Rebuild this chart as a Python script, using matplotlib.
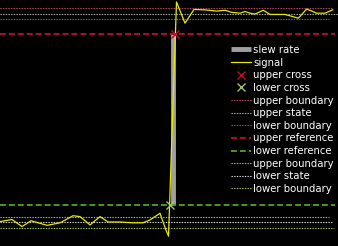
import matplotlib
matplotlib.use("Agg")
import matplotlib.pyplot as plt

# signal samples (time, volts)
t_sig = [0, 12, 22, 31, 47, 60, 73, 80, 90, 100, 108, 120, 133, 143, 150, 160, 165.7, 168.5,
         176.5, 185, 194, 205, 216.7, 225, 231.7, 240, 245, 250, 255, 263.3, 270, 285,
         298.3, 306.7, 316.7, 325, 332.7]
v_sig = [0.01, 0.06, -0.11, 0.03, -0.08, -0.02, 0.15, 0.13, -0.07, 0.13, 0.0, 0.0, -0.02, -0.02,
         0.05, 0.21, -0.18, -0.34,
         5.29, 4.78, 5.11, 5.10, 5.07, 5.09, 5.04, 5.02, 5.06, 5.02, 5.00, 5.09, 4.99, 4.99,
         4.90, 5.12, 5.02, 5.02, 5.10]

t_start, t_end = 0, 332
upper_state = 5.01
upper_bounds = [5.14, 4.88]
lower_state = 0.0
lower_bounds = [0.13, -0.14]
upper_ref = 4.51
lower_ref = 0.42
upper_cross = (175, 4.51)
lower_cross = (170, 0.42)

labels = ["slew rate", "signal", "upper cross", "lower cross", "upper boundary",
          "upper state", "lower boundary", "upper reference", "lower reference",
          "upper boundary", "lower state", "lower boundary"]

fig = plt.figure(figsize=(3.38, 2.46), dpi=100, facecolor="black")
ax = fig.add_axes([0, 0, 1, 1])
ax.set_facecolor("black")
ax.set_axis_off()
ax.set_xlim(0, 338)
ax.set_ylim(-0.577, 5.337)

dot = (0, (1.2, 1.2))
pink = "#c8506a"
grey = "#b8b8b8"
lgreen = "#a8d060"

mid_t = (upper_cross[0] + lower_cross[0]) / 2
h_slew, = ax.plot([mid_t, mid_t], [lower_cross[1], upper_cross[1]], color="#a0a0a0",
                  lw=3.5, solid_capstyle="butt", zorder=2)
h_sig, = ax.plot(t_sig, v_sig, color="#e8e800", lw=0.9, zorder=3)
h_uc, = ax.plot([upper_cross[0]], [upper_cross[1]], "x", color="#c01020", ms=6, mew=1, zorder=4)
h_lc, = ax.plot([lower_cross[0]], [lower_cross[1]], "x", color="#a0c070", ms=6, mew=1, zorder=4)
h_ub1, = ax.plot([t_start, t_end], [upper_bounds[0]] * 2, color=pink, lw=0.8, ls=dot)
h_us, = ax.plot([t_start, 338], [upper_state] * 2, color=grey, lw=0.8, ls=dot)
h_lb1, = ax.plot([t_start, 329], [upper_bounds[1]] * 2, color=pink, lw=0.8, ls=dot)
h_ur, = ax.plot([t_start, 335], [upper_ref] * 2, color="#b01020", lw=1.4, ls=(0, (3, 1.6)))
h_lr, = ax.plot([t_start, 335], [lower_ref] * 2, color="#4a9a20", lw=1.4, ls=(0, (3, 1.6)))
h_ub2, = ax.plot([t_start, 329], [lower_bounds[0]] * 2, color=lgreen, lw=0.8, ls=dot)
h_ls, = ax.plot([t_start, 333], [lower_state] * 2, color="#e0e0e0", lw=0.8, ls=dot)
h_lb2, = ax.plot([t_start, 334], [lower_bounds[1]] * 2, color=lgreen, lw=0.8, ls=dot)

handles = [h_slew, h_sig, h_uc, h_lc, h_ub1, h_us, h_lb1, h_ur, h_lr, h_ub2, h_ls, h_lb2]
leg = fig.legend(handles, labels, loc="upper left",
                 bbox_to_anchor=(231 / 338, 1 - 45 / 246), frameon=False,
                 fontsize=7.3, labelcolor="white", handlelength=2.0, handletextpad=0.2,
                 labelspacing=0.26, borderpad=0, borderaxespad=0, markerscale=1.0)

fig.savefig("out.png", dpi=100, facecolor="black")
